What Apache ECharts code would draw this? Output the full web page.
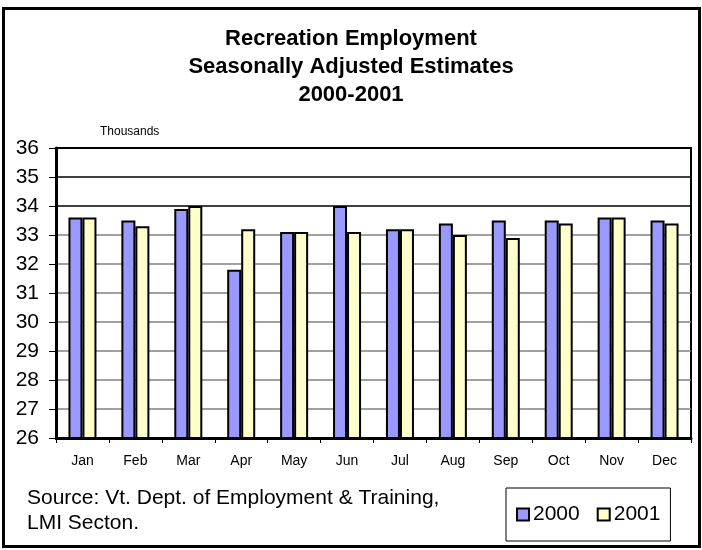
<!DOCTYPE html>
<html>
<head>
<meta charset="utf-8">
<script src="https://cdn.jsdelivr.net/npm/echarts@6/dist/echarts.min.js"></script>
<style>
html,body{margin:0;padding:0;background:#fff;}
#chart{width:702px;height:550px;}
</style>
</head>
<body>
<div id="chart"></div>
<script>
const months = ['Jan','Feb','Mar','Apr','May','Jun','Jul','Aug','Sep','Oct','Nov','Dec'];
const values2000 = [33.6, 33.5, 33.9, 31.8, 33.1, 34.0, 33.2, 33.4, 33.5, 33.5, 33.6, 33.5];
const values2001 = [33.6, 33.3, 34.0, 33.2, 33.1, 33.1, 33.2, 33.0, 32.9, 33.4, 33.6, 33.4];
const seriesNames = ['2000', '2001'];
const titleText = 'Recreation Employment\nSeasonally Adjusted Estimates\n2000-2001';
const sourceText = 'Source: Vt. Dept. of Employment & Training,\nLMI Secton.';
const unitText = 'Thousands';

const font = '"Liberation Sans", Arial, Helvetica, sans-serif';
const grey = '#808080';
const splitColors = [grey, grey, grey, grey, grey, grey, grey, grey, '#000', '#000', '#000'];

const chart = echarts.init(document.getElementById('chart'), null, {renderer: 'canvas'});
chart.setOption({
  backgroundColor: '#fff',
  animation: false,
  textStyle: {fontFamily: font},
  title: {
    text: titleText,
    left: 'center',
    top: 25,
    padding: 0,
    textStyle: {fontFamily: font, fontSize: 22, fontWeight: 'bold', color: '#000', lineHeight: 28}
  },
  legend: {
    data: seriesNames,
    left: 506,
    top: 488,
    padding: [16, 10, 16, 10],
    borderColor: '#000',
    borderWidth: 1,
    itemWidth: 12,
    itemHeight: 12,
    itemGap: 17,
    icon: 'rect',
    itemStyle: {borderColor: '#000', borderWidth: 2},
    textStyle: {fontFamily: font, fontSize: 21, color: '#000', padding: [0, 0, 0, -1]}
  },
  grid: {
    left: 56, right: 11, top: 148, bottom: 112,
    show: true, borderColor: '#000', borderWidth: 2, backgroundColor: '#fff',
    containLabel: false
  },
  xAxis: {
    type: 'category',
    data: months,
    axisLine: {lineStyle: {color: '#000', width: 3}},
    axisTick: {show: true, length: 5, lineStyle: {color: '#000', width: 1}},
    axisLabel: {fontFamily: font, fontSize: 14, color: '#000', margin: 16}
  },
  yAxis: {
    type: 'value',
    min: 26, max: 36, interval: 1,
    axisLine: {show: true, lineStyle: {color: '#000', width: 3}},
    axisTick: {show: true, length: 7, lineStyle: {color: '#000', width: 1}},
    axisLabel: {fontFamily: font, fontSize: 21, color: '#000', margin: 17},
    splitLine: {show: true, lineStyle: {color: splitColors, width: 1.5}}
  },
  series: [
    {
      name: seriesNames[0], type: 'bar', data: values2000,
      barWidth: 14, barGap: '0%',
      itemStyle: {color: '#9999FF', borderColor: '#000', borderWidth: 2}
    },
    {
      name: seriesNames[1], type: 'bar', data: values2001,
      barWidth: 14, barGap: '0%',
      itemStyle: {color: '#FFFFCC', borderColor: '#000', borderWidth: 2}
    }
  ],
  graphic: [
    {
      type: 'rect', silent: true, z: 100,
      shape: {x: 3.5, y: 8.5, width: 696, height: 538},
      style: {fill: null, stroke: '#000', lineWidth: 3}
    },
    {
      type: 'text', left: 100, top: 126, z: 10,
      style: {text: unitText, font: '12px ' + font, fill: '#000'}
    },
    {
      type: 'text', left: 27, top: 486, z: 10,
      style: {text: sourceText, font: '21px ' + font, fill: '#000', lineHeight: 25}
    }
  ]
});
</script>
</body>
</html>
